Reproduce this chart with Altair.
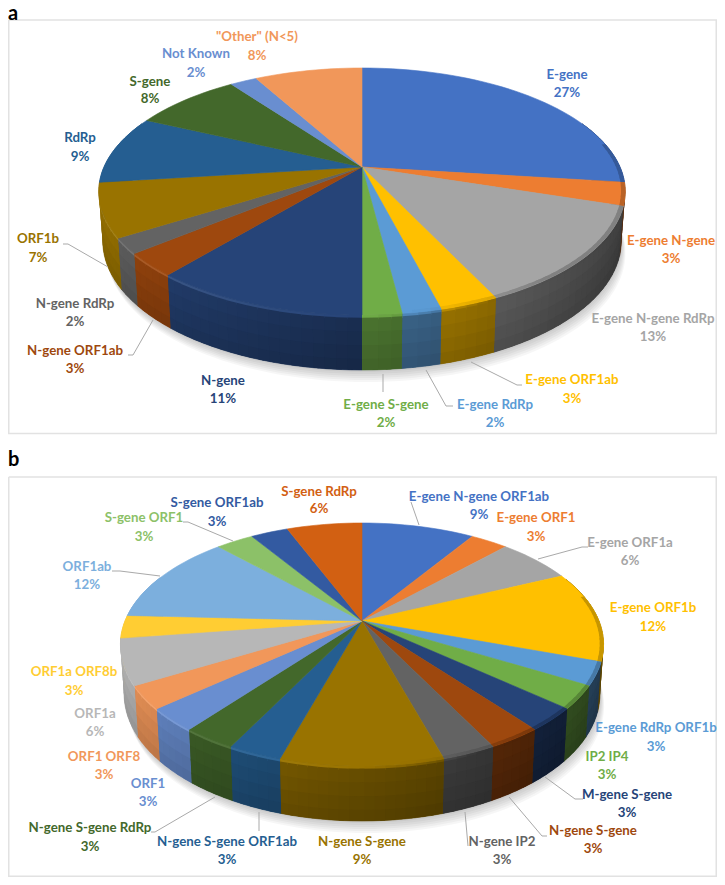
import math
import altair as alt

# ---- data -------------------------------------------------------------
A_NAMES = ["E-gene", "E-gene N-gene", "E-gene N-gene RdRp", "E-gene ORF1ab", "E-gene RdRp",
           "E-gene S-gene", "N-gene", "N-gene ORF1ab", "N-gene RdRp", "ORF1b", "RdRp",
           "S-gene", "Not Known", '"Other" (N<5)']
A_VALUES = [27, 3, 13, 3, 2, 2, 11, 3, 2, 7, 9, 8, 2, 8]
A_COLORS = ["#4472C4", "#ED7D31", "#A5A5A5", "#FFC000", "#5B9BD5", "#70AD47", "#264478",
            "#9E480E", "#636363", "#997300", "#255E91", "#43682B", "#698ED0", "#F1975A"]

B_NAMES = ["E-gene N-gene ORF1ab", "E-gene ORF1", "E-gene ORF1a", "E-gene ORF1b",
           "E-gene RdRp ORF1b", "IP2 IP4", "M-gene S-gene", "N-gene  S-gene", "N-gene IP2",
           "N-gene S-gene", "N-gene S-gene ORF1ab", "N-gene S-gene RdRp", "ORF1", "ORF1 ORF8",
           "ORF1a", "ORF1a ORF8b", "ORF1ab", "S-gene ORF1", "S-gene ORF1ab", "S-gene RdRp"]
B_VALUES = [9, 3, 6, 12, 3, 3, 3, 3, 3, 9, 3, 3, 3, 3, 6, 3, 12, 3, 3, 6]
B_COLORS = ["#4472C4", "#ED7D31", "#A5A5A5", "#FFC000", "#5B9BD5", "#70AD47", "#264478",
            "#9E480E", "#636363", "#997300", "#255E91", "#43682B", "#698ED0", "#F1975A",
            "#B7B7B7", "#FFCD33", "#7CAFDD", "#8CC168", "#335AA1", "#D26012"]

# ---- layout (page pixels of the label centres: x, y of name, y of percent) ----
A_LABELS = [(567, 75, 93), (671, 241, 259), (653, 319, 337), (572, 380, 399), (495, 405, 423),
            (386, 405, 423), (223, 381, 399), (75, 351, 369), (75, 304, 322), (38, 239, 258),
            (80, 138, 157), (150, 82, 99), (196, 54, 73), (257, 37, 56)]
B_LABELS = [(479, 497, 515), (536, 518, 537), (630, 543, 561), (653, 608, 627), (656, 728, 747),
            (607, 757, 775), (627, 795, 813), (593, 831, 849), (502, 842, 860), (362, 842, 860),
            (227, 842, 860), (90, 828, 847), (148, 784, 802), (104, 757, 775), (95, 714, 732),
            (74, 672, 691), (87, 567, 585), (144, 518, 537), (217, 503, 522), (319, 492, 509)]
LEADERS = [
    [(63, 244), (68, 244), (108, 267)],
    [(128, 355), (133, 355), (153, 320)],
    [(383, 374), (383, 392)],
    [(453, 406), (446, 406), (426, 370)],
    [(522, 385), (517, 385), (471, 362)],
    [(112, 571), (120, 571), (160, 576)],
    [(183, 522), (188, 522), (233, 541)],
    [(411, 502), (419, 525)],
    [(588, 547), (582, 547), (538, 559)],
    [(583, 799), (575, 799), (545, 777)],
    [(547, 836), (542, 836), (509, 797)],
    [(468, 846), (465, 812)],
    [(151, 832), (155, 832), (215, 797)],
    [(259, 812), (259, 831)],
]
PIE_A = dict(cx=362, cy=167, rx=258, up=99, down=148)
PIE_B = dict(cx=362, cy=621, rx=237, up=98, down=145)
WIDTH = 709
HEIGHT = 869
FRAMES = [(8.75, 20, WIDTH + 7.25, 433.5), (8.75, 477, WIDTH + 7.25, HEIGHT + 7.25)]
M = 8  # page margin


def make_proj(p):
    k = (p["down"] - p["up"]) / (p["down"] + p["up"])
    ry = p["up"] * (1 + k)

    def proj(theta, r=1.0, t=0.0):
        u, v = r * math.sin(theta), r * math.cos(theta)
        w = 1 + k * v
        x = u * p["rx"] / w
        y = -v * ry / w
        drop = (48 - 7 * math.cos(theta)) * t
        return [p["cx"] + x * (1 - 0.015 * t) - M, p["cy"] + y + drop - M]
    return proj


def shade(color, f):
    c = [int(color[i:i + 2], 16) for i in (1, 3, 5)]
    if f <= 1:
        c = [x * f for x in c]
    else:
        c = [x + (255 - x) * (f - 1) for x in c]
    return "#%02x%02x%02x" % tuple(int(round(x)) for x in c)


def feature(coords, fill):
    return {"type": "Feature", "properties": {"fill": fill},
            "geometry": {"type": "Polygon", "coordinates": [coords + [coords[0]]]}}


def arc(a, b, step=2.0):
    n = max(2, int((b - a) / math.radians(step)))
    return [a + (b - a) * i / n for i in range(n + 1)]


def wall_factor(u):
    return 0.64 - 0.29 * u


def rim_factor(u):
    base = wall_factor(u) * 1.02
    if u <= 0:
        return 1.0 + 0.14 * (-u)
    if u >= 0.4:
        return base
    return 1.0 + (base - 1.0) * u / 0.4


def build(values, colors, p):
    proj = make_proj(p)
    total = sum(values)
    tops, under, walls, rims = [], [], [], []
    start = 0.0
    pad = math.radians(0.5)
    for val, col in zip(values, colors):
        a = start / total * 2 * math.pi
        start += val
        b = start / total * 2 * math.pi
        ths = [t for t in arc(a, b) if math.cos(t) < 0.4]
        tops.append(feature([proj(0, 0)] + [proj(t) for t in arc(a, b)], col))
        if len(ths) < 2:
            continue
        mid = (ths[0] + ths[-1]) / 2
        under.append((math.cos(mid), feature(
            [proj(t, 1, 0) for t in ths] + [proj(t, 1, 1) for t in reversed(ths)],
            shade(col, wall_factor(math.sin(mid)) * 0.95))))
        for t0, t1 in zip(ths[:-1], ths[1:]):
            m = (t0 + t1) / 2
            u = math.sin(m)
            base = wall_factor(u)
            e0, e1 = max(ths[0], t0 - pad), min(ths[-1], t1 + pad)
            rows = [0, 0.05, 0.3, 0.55, 0.8, 1]
            for j, (s0, s1) in enumerate(zip(rows[:-1], rows[1:])):
                f = rim_factor(u) if j == 0 else base * (1.06 - 0.16 * (s0 + s1) / 2)
                s1x = min(1, s1 + 0.03)
                walls.append((math.cos(m), j, feature(
                    [proj(e0, 1, s0), proj(e1, 1, s0), proj(e1, 1, s1x), proj(e0, 1, s1x)],
                    shade(col, f))))
            if u > 0.15 and math.cos(m) < 0.2:
                g = 1 - 0.22 * min(1, (u - 0.15) / 0.45)
                rims.append(feature(
                    [proj(e0, 0.985), proj(e1, 0.985), proj(e1, 1.0), proj(e0, 1.0)], shade(col, g)))
    walls.sort(key=lambda w: (-w[0], w[1]))
    under.sort(key=lambda w: -w[0])
    shadow = []
    ths = arc(0, 2 * math.pi)
    for d in (2, 4, 6, 8, 10, 12):
        shadow.append(feature([[proj(t, 1, 1)[0] + d * 0.35, proj(t, 1, 1)[1] + d] for t in ths], "#000000"))
    return shadow, [w[1] for w in under], [w[2] for w in walls], tops, rims


parts_a = build(A_VALUES, A_COLORS, PIE_A)
parts_b = build(B_VALUES, B_COLORS, PIE_B)

PROJECTION = alt.Projection(type="identity", scale=1, translate=[0, 0])


def shapes(features, stroked=False):
    return alt.Chart(alt.Data(values=features)).mark_geoshape(
        strokeWidth=0.6 if stroked else 0
    ).encode(
        fill=alt.Fill("properties.fill:N", scale=None),
        stroke=alt.Stroke("properties.fill:N", scale=None),
    ).project(**PROJECTION.to_dict())


def lines(paths, color, width):
    feats = [{"type": "Feature", "properties": {},
              "geometry": {"type": "LineString", "coordinates": [[x - M, y - M] for x, y in path]}}
             for path in paths]
    return alt.Chart(alt.Data(values=feats)).mark_geoshape(
        fill="transparent", stroke=color, strokeWidth=width, filled=False
    ).project(**PROJECTION.to_dict())


shadow_layer = alt.Chart(alt.Data(values=parts_a[0] + parts_b[0])).mark_geoshape(
    fill="#000000", fillOpacity=0.035, strokeWidth=0
).project(**PROJECTION.to_dict())

frames = lines([[(l, t), (r, t), (r, b), (l, b), (l, t)] for l, t, r, b in FRAMES], "#e2e2e2", 1.5)
leaders = lines(LEADERS, "#a9a9a9", 1)

rows = []
for names, vals, cols, pos in ((A_NAMES, A_VALUES, A_COLORS, A_LABELS), (B_NAMES, B_VALUES, B_COLORS, B_LABELS)):
    for n, v, c, (x, y1, y2) in zip(names, vals, cols, pos):
        rows.append({"t": n, "c": c, "x": x - M, "y": y1 - M})
        rows.append({"t": f"{v}%", "c": c, "x": x - M, "y": y2 - M})

labels = alt.Chart(alt.Data(values=rows)).mark_text(
    font="Lato", fontWeight="bold", fontSize=13.3, align="center", baseline="middle"
).encode(
    x=alt.X("x:Q", scale=None, axis=None),
    y=alt.Y("y:Q", scale=None, axis=None),
    text="t:N",
    color=alt.Color("c:N", scale=None),
)

panel_rows = [{"t": "a", "x": 0, "y": 12}, {"t": "b", "x": 0, "y": 458}]
panel_tags = alt.Chart(alt.Data(values=panel_rows)).mark_text(
    font="Lato", fontWeight="bold", fontSize=20, align="left", baseline="alphabetic", color="#000000"
).encode(
    x=alt.X("x:Q", scale=None, axis=None),
    y=alt.Y("y:Q", scale=None, axis=None),
    text="t:N",
)

chart = alt.layer(
    frames, shadow_layer,
    shapes(parts_a[1], True), shapes(parts_a[2]), shapes(parts_a[3], True), shapes(parts_a[4]),
    shapes(parts_b[1], True), shapes(parts_b[2]), shapes(parts_b[3], True), shapes(parts_b[4]),
    leaders, labels, panel_tags,
).properties(width=WIDTH, height=HEIGHT, padding=0, autosize="none", background="white"
).configure_view(stroke=None)

chart.save("out.html", embed_options={"renderer": "svg", "actions": False})
